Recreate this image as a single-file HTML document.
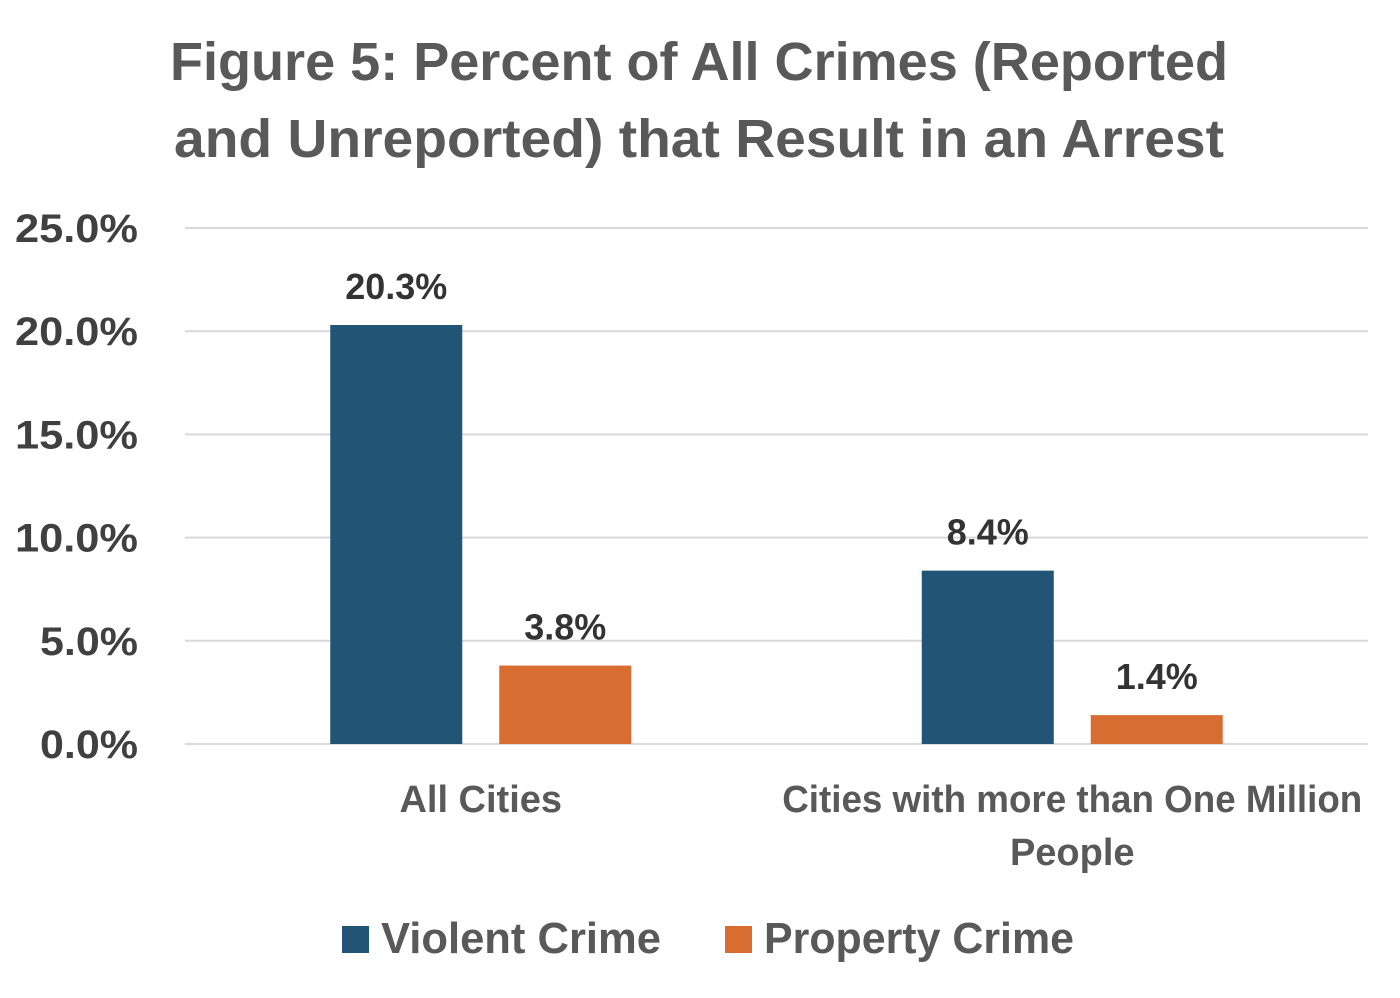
<!DOCTYPE html>
<html><head><meta charset="utf-8"><style>
html,body{margin:0;padding:0;background:#fff;}
svg{display:block;font-family:"Liberation Sans Narrow","Liberation Sans",sans-serif;font-weight:bold;}
</style></head><body>
<svg id="chart" width="1400" height="998" viewBox="0 0 1400 998">
<text x="699" y="80" text-anchor="middle" font-size="54" fill="#595959" textLength="1058" lengthAdjust="spacingAndGlyphs">Figure 5: Percent of All Crimes (Reported</text>
<text x="699" y="157" text-anchor="middle" font-size="54" fill="#595959" textLength="1050" lengthAdjust="spacingAndGlyphs">and  Unreported) that Result in an Arrest</text>
<g id="grid"></g><g id="bars"></g><g id="labels"></g>
<g>
<rect x="342" y="926" width="27" height="27" fill="#215475"/>
<text x="381" y="953" font-size="44" fill="#595959" textLength="280" lengthAdjust="spacingAndGlyphs">Violent Crime</text>
<rect x="725" y="926" width="27" height="27" fill="#D86D31"/>
<text x="764" y="953" font-size="44" fill="#595959" textLength="310" lengthAdjust="spacingAndGlyphs">Property Crime</text>
</g>
</svg>
<script>
const categories = ["All Cities", "Cities with more than One Million|People"];
const violent = [20.3, 8.4];
const property = [3.8, 1.4];
const ticks = [0, 5, 10, 15, 20, 25];
const NS = "http://www.w3.org/2000/svg";
const x0 = 185, x1 = 1368, yBase = 744, yTop = 228, yMax = 25;
const y = v => yBase - (v / yMax) * (yBase - yTop);
const catW = (x1 - x0) / categories.length;
const cx = i => x0 + catW * (i + 0.5);
function mk(tag, attrs, parent) { const e = document.createElementNS(NS, tag); for (const k in attrs) e.setAttribute(k, attrs[k]); parent.appendChild(e); return e; }
const grid = document.getElementById('grid'), bars = document.getElementById('bars'), labels = document.getElementById('labels');
ticks.forEach(t => {
  const l = mk('line', {x1: x0, x2: x1, y1: y(t), y2: y(t), stroke: '#d9d9d9', 'stroke-width': 2}, grid);
  
  
  const s = t.toFixed(1) + '%';
  const tx = mk('text', {x: 138, y: y(t) + 14, 'text-anchor': 'end', 'font-size': 40, fill: '#404040', textLength: s.length === 5 ? 123 : 98, lengthAdjust: 'spacingAndGlyphs'}, grid);
  tx.textContent = s;
  
  
});
const bw = 132, gap = 37;
[[violent, '#215475', -1, 'violent'], [property, '#D86D31', 1, 'property']].forEach(([vals, col, side, nm]) => {
  vals.forEach((v, i) => {
    const bx = cx(i) + (side < 0 ? -gap / 2 - bw : gap / 2);
    const r = mk('rect', {x: bx, y: y(v), width: bw, height: yBase - y(v), fill: col}, bars);
    
    
    const t = mk('text', {x: bx + bw / 2, y: y(v) - 26, 'text-anchor': 'middle', 'font-size': 36, fill: '#333'}, labels);
    t.textContent = v.toFixed(1) + '%';
    
    
  });
});
categories.forEach((c, i) => {
  c.split('|').forEach((ln, j) => {
    const attrs = {x: cx(i), y: 812 + j * 53, 'text-anchor': 'middle', 'font-size': 38, fill: '#595959'};
    if (ln.length > 20) { attrs.textLength = 580; attrs.lengthAdjust = 'spacingAndGlyphs'; }
    const t = mk('text', attrs, labels);
    t.textContent = ln;
    
    
  });
});
</script>
</body></html>
